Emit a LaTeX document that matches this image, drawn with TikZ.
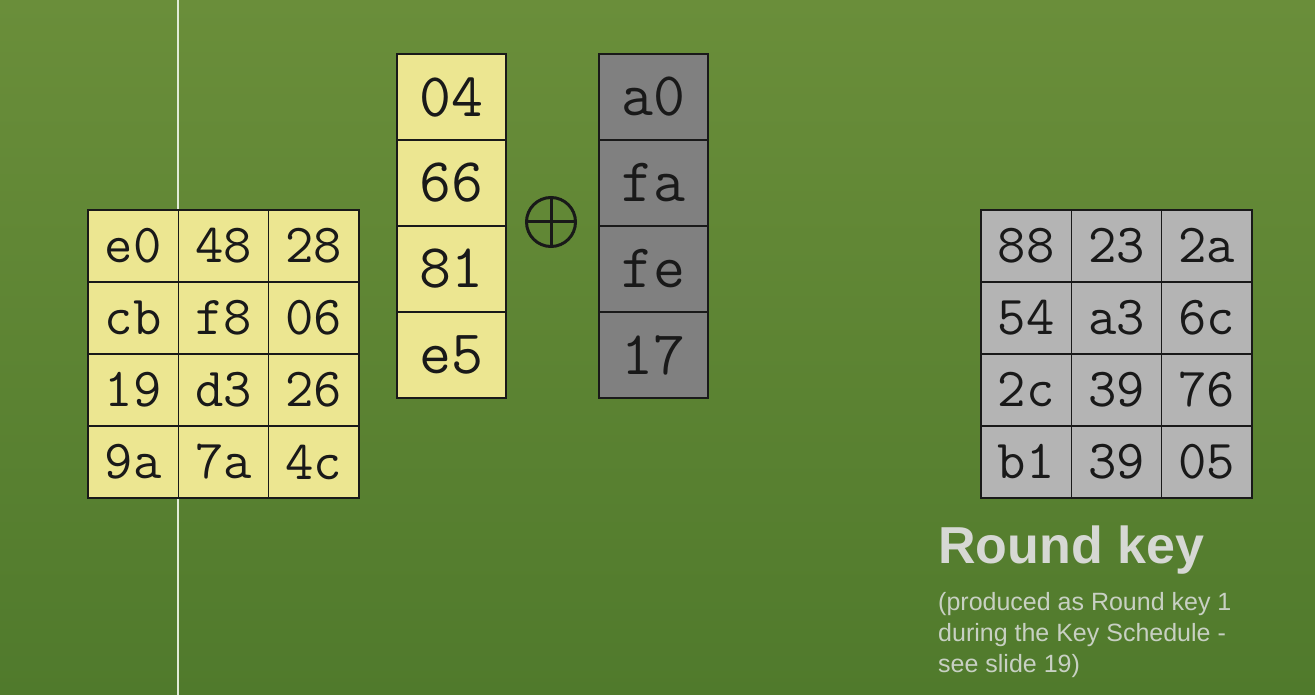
\documentclass[tikz,border=0pt]{standalone}
\usepackage{fontspec}
\setmainfont{Liberation Sans}
\definecolor{bgtop}{RGB}{106,142,58}
\definecolor{bgbot}{RGB}{80,122,44}
\definecolor{yel}{RGB}{236,230,145}
\definecolor{dgrey}{RGB}{128,128,128}
\definecolor{lgrey}{RGB}{180,180,180}
\definecolor{vline}{RGB}{225,235,215}
\definecolor{ttxt}{RGB}{214,216,212}
\definecolor{stxt}{RGB}{200,208,195}
\begin{document}
\begin{tikzpicture}[x=1pt,y=-1pt,
  cell/.style={draw=black!90,line width=1.3pt,inner sep=0pt,text=black!90},
  gridcell/.style={cell,minimum width=90.33pt,minimum height=72pt,font=\ttfamily\fontsize{55}{55}\selectfont},
  colcell/.style={cell,minimum width=109pt,minimum height=86pt,font=\ttfamily\fontsize{62}{62}\selectfont},
  ycell/.style={gridcell,fill=yel},
  gcell/.style={gridcell,fill=lgrey},
  ycol/.style={colcell,fill=yel},
  gcol/.style={colcell,fill=dgrey},
  xorsym/.style={circle,draw=black!90,line width=3pt,minimum size=49pt,inner sep=0pt,
    path picture={\draw[line width=3pt,black!90] (path picture bounding box.north) -- (path picture bounding box.south)
      (path picture bounding box.west) -- (path picture bounding box.east);}},
  subline/.style={anchor=base west,inner sep=0pt,text=stxt,font=\fontsize{25}{31}\selectfont}
  ]
\useasboundingbox (0,0) rectangle (1315,695);
\shade[top color=bgtop,bottom color=bgbot] (0,0) rectangle (1315,695);
\coordinate (vtop) at (178,0);
\coordinate (vbot) at (178,695);
\draw[vline,line width=2pt] (vtop) -- (vbot);
% left state grid
\foreach \r/\a/\b/\c in {1/e0/48/28,2/cb/f8/06,3/19/d3/26,4/9a/7a/4c}{
  \node[ycell] (L-\r-1) at (133.17,{210+72*(\r-0.5)}) {\a};
  \node[ycell] (L-\r-2) at (223.5,{210+72*(\r-0.5)}) {\b};
  \node[ycell] (L-\r-3) at (313.83,{210+72*(\r-0.5)}) {\c};
}
% middle columns
\foreach \r/\a/\b in {1/04/a0,2/66/fa,3/81/fe,4/e5/17}{
  \node[ycol] (Y-\r) at (451.5,{54+86*(\r-0.5)}) {\a};
  \node[gcol] (G-\r) at (653.5,{54+86*(\r-0.5)}) {\b};
}
\node[xorsym] (xor) at (551,222) {};
% right key grid
\foreach \r/\a/\b/\c in {1/88/23/2a,2/54/a3/6c,3/2c/39/76,4/b1/39/05}{
  \node[gcell] (R-\r-1) at (1026.17,{210+72*(\r-0.5)}) {\a};
  \node[gcell] (R-\r-2) at (1116.5,{210+72*(\r-0.5)}) {\b};
  \node[gcell] (R-\r-3) at (1206.83,{210+72*(\r-0.5)}) {\c};
}
\node[anchor=base west,inner sep=0pt,text=ttxt,font=\bfseries\fontsize{52}{52}\selectfont] (title) at (938,563) {Round key};
\node[subline] (sub1) at (938,610) {(produced as Round key 1};
\node[subline] (sub2) at (938,641) {during the Key Schedule -};
\node[subline] (sub3) at (938,672) {see slide 19)};
\end{tikzpicture}
\end{document}
